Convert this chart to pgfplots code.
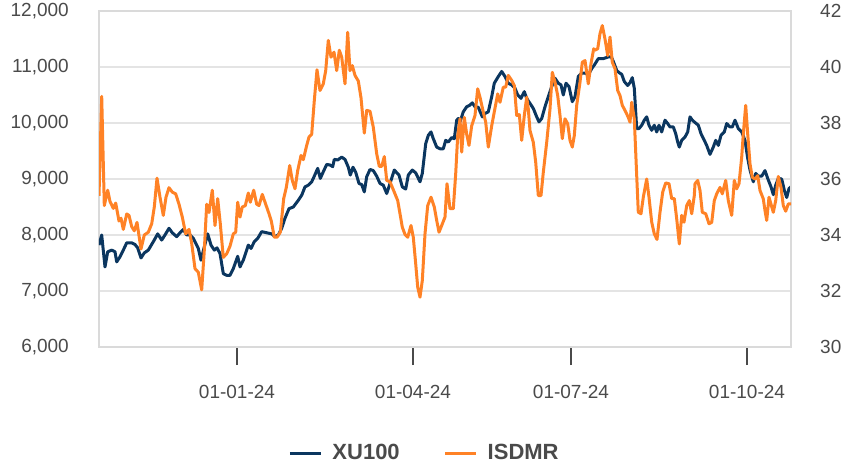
\documentclass[border=0pt]{standalone}
\usepackage{pgfplots}
\pgfplotsset{compat=1.18}
\usepackage{fontspec}
\setmainfont{Liberation Sans}
\definecolor{navy}{HTML}{0B365F}
\definecolor{orng}{HTML}{FF8226}
\definecolor{txt}{HTML}{4A4A4A}
\definecolor{grd}{HTML}{E4E4E4}
\definecolor{frm}{HTML}{DADADA}

\pgfplotstableread{
x y
0 7820
2.7 8000
6 7430
8.7 7700
12.7 7730
16 7700
17.7 7520
21 7610
24.3 7730
27.7 7860
32.7 7860
36 7830
38.7 7770
42 7590
45.3 7680
49.3 7730
54.3 7880
58.7 8020
62.7 7910
66 8000
70 8120
73.3 8040
77.7 7970
81 8040
84.3 8100
87.7 8000
91 8000
94.3 7940
96 7880
99.3 7760
102 7550
105.3 7790
108.7 8020
112 7820
115.3 7730
118 7770
121 7670
124.3 7310
127.7 7280
131 7280
134.3 7400
138.7 7620
141 7430
144.3 7550
149.3 7820
152 7760
155.3 7880
158.7 7940
162.7 8060
167.7 8040
172.7 8020
176 7970
179.3 8000
182.7 8120
186 8300
190 8470
194.3 8500
199.3 8620
202.7 8710
206 8860
209.3 8890
212.7 8950
215.3 9050
218.7 9190
221.3 9010
224.3 9130
227.7 9260
231 9250
233.7 9220
235.3 9350
238.7 9340
242.7 9390
246 9350
249.3 9210
251.3 9070
254 9210
256.7 9120
260 8920
262.7 8900
265.3 8770
267.7 9040
271 9170
274.3 9150
277.7 9050
281 8920
284.3 8890
287.7 8740
291 8920
295.3 9160
300 9070
303.3 8860
306.7 8820
309.3 9070
313.3 9160
316.7 9110
321 8950
323.3 9100
326.7 9630
329.3 9780
332 9840
334.3 9720
337.7 9570
341 9540
344.3 9540
346.7 9690
349.3 9660
352.7 9740
355.3 9720
357.7 10050
359.3 10080
361 10020
364.3 10200
367.7 10290
371 10320
373.3 10360
376 10290
379.3 10280
383.3 10110
386 10170
389.3 10200
392.7 10470
395.3 10710
399.3 10830
402.7 10920
406 10830
409.3 10710
412.7 10680
416 10620
418.7 10500
422 10440
425.3 10560
427.7 10440
431 10350
434.3 10260
437.7 10110
440 10020
442.7 10080
446 10290
449.3 10470
452.7 10650
456 10800
459.3 10710
462 10680
464.3 10500
467 10710
470 10650
473.3 10380
476 10470
479.3 10830
482.7 10890
486 10890
489.3 10860
492.7 10970
495.5 11040
499.3 11150
504.3 11150
509.3 11180
512.3 11180
514.3 11100
517.7 10940
520 10900
522.7 10870
525.3 10740
528.7 10670
531 10720
533.3 10810
535.3 10620
537.7 9900
540 9900
542.7 9960
545.3 10050
547.7 10110
550 9960
552.7 9870
555.3 9960
557.7 9840
560 9960
562.7 9840
566 10050
568.7 9990
571 9930
574.3 9930
576.7 9810
578.7 9660
580.3 9570
582.7 9690
586 9750
588.7 9840
591 10110
593.3 10050
595.3 10020
599.3 9960
602 9810
605.3 9690
607.7 9600
611 9440
614.3 9570
616.7 9690
619.3 9600
622 9780
625.3 9840
627.7 9990
631 9930
633.3 9930
636 10050
639.3 9900
642.7 9840
646 9690
648.7 9370
651 9160
654.3 8950
656.7 9100
659.3 9050
662.7 9050
666 9150
668.7 9010
672 8860
674.3 8720
676.7 8890
679.3 9010
682.7 9000
685.3 8800
687.7 8670
690 8830
692 8860
}\xu

\pgfplotstableread{
x y
0 35.4
2.7 38.95
5.3 35.05
8.7 35.6
11 35.2
14.3 34.95
16.7 35.14
20 34.5
22 34.6
24.3 34.2
27.7 34.75
30 34.7
32.7 34.3
35.3 34.15
38 34.45
42 33.5
45.3 34.0
49.3 34.1
52.7 34.4
55.3 35.0
58 36.03
61 35.35
64.3 34.7
67 35.35
70 35.69
73.3 35.53
76.7 35.47
80 35.1
83.3 34.64
86.7 34.04
90 34.2
92.7 33.7
96 32.8
99.3 32.67
102.7 32.04
105.3 33.45
107.7 35.1
110 34.8
113.3 35.6
116 34.34
118.7 35.3
121.3 34.4
124.3 33.2
127.7 33.33
131 33.6
134.3 34.04
136.7 34.1
138.7 35.17
141 34.64
143.3 35.0
146.3 35.05
149.3 35.5
151.3 35.17
154.7 35.6
157.7 35.1
160 35.05
163.3 35.45
166.7 35.1
170 34.76
172.3 34.5
175.3 33.92
178 33.92
181.3 34.1
184.7 35.3
187.3 35.7
190.7 36.48
193.3 35.95
196 35.65
198.7 36.3
202 36.84
204.3 36.69
207.7 37.2
210 37.5
212.7 37.6
215.3 38.8
218 39.9
221 39.16
224.3 39.4
226.7 39.87
229.3 40.95
232 40.35
235 40.53
237.7 39.87
240.3 40.6
242.7 40.35
246 39.4
248.7 41.24
251 39.87
253.3 40.05
256 39.7
259.3 39.5
262 38.9
265.3 37.64
267.7 38.45
271 38.42
274.3 37.85
277.7 36.9
280.3 36.45
282.7 36.45
285.3 36.8
287.7 35.95
291 35.9
295.3 35.53
298.7 35.23
301 34.76
303.3 34.28
306 34.02
308.7 33.92
312 34.34
314.3 33.92
316.7 32.97
318.7 32.14
321 31.78
323.3 32.37
326 34.04
328.7 35.05
332 35.35
335.3 35.0
337.7 34.52
340 34.1
342.7 34.34
346 34.64
348 35.83
351 34.94
354.3 34.94
356.7 36.19
358.7 37.55
361 38.15
362.7 36.96
365.3 38.2
367.7 37.6
370 37.2
372.7 37.9
376 38.27
378.7 39.22
381 38.92
384.3 38.39
386.7 38.03
389.3 37.14
392.7 37.9
395.3 38.4
398.7 39.04
401 38.74
404.3 39.28
406.7 39.28
409.3 39.7
412.7 39.52
415.3 39.34
417.7 38.27
420.3 38.3
422.7 37.38
425.3 38.27
427.7 38.92
429.3 38.5
431 37.73
434.3 37.31
436.7 36.6
439.3 35.41
442 35.41
444.3 36.24
447.7 37.31
451 38.5
453.3 39.81
456 39.46
458.7 38.98
461 38.27
463.3 37.44
466 38.15
468.7 37.97
471 37.38
473.3 37.14
475.3 37.55
477.7 38.63
481 39.46
483.3 40.17
486 40.23
489.3 39.4
492 40.12
494.7 40.65
496 40.6
498.7 40.65
501 41.19
503.3 41.48
506 41.0
508.7 40.41
511 41.07
513.3 40.17
516 39.94
518.7 39.16
521 38.98
523.3 38.63
526 38.45
529.3 38.2
531 38.03
532.7 38.74
535.3 38.15
537.7 36.12
539.3 34.81
542 34.76
544.3 35.35
547.7 36.0
550 35.35
552.7 34.46
555.3 34.04
558 33.84
561 34.81
563.7 35.53
566.7 35.86
570 35.83
572.7 35.3
575.3 35.3
577.7 34.58
580.3 33.68
582.7 34.7
585 34.46
587.7 35.05
590.3 35.23
592.7 34.76
595.3 35.41
596 35.83
598.7 35.95
601 35.59
603.3 34.81
606.7 34.76
610 34.4
612.7 34.45
615.3 35.23
617.7 35.47
621 35.7
623.3 35.47
626.7 35.95
629.3 35.23
632.7 34.7
635.3 35.95
637.7 35.65
640 35.83
642.7 36.78
644.3 37.61
646.7 38.63
648.7 37.61
651 36.54
653.3 36.06
656 36.0
658.7 36.12
661 35.59
664.3 35.29
666 34.87
667.7 34.52
670 35.35
672 35.1
674.3 34.81
676.7 35.23
679.3 36.09
682 35.7
684.3 35.05
686.7 34.85
689.3 35.11
692 35.11
}\isd

\begin{document}
\begin{tikzpicture}[x=1pt,y=1pt]
\path[use as bounding box] (0,0) rectangle (841,469);
\pgfplotsset{
  common/.style={
    at={(99pt,122pt)}, anchor=south west,
    scale only axis, width=692pt, height=336pt,
    xmin=0, xmax=692,
    tick align=outside, major tick length=18pt,
    ytick style={draw=none},
    scaled y ticks=false,
    ticklabel style={font=\fontsize{19}{22}\selectfont, text=txt},
    /pgf/number format/assume math mode=true,
  }
}
\begin{axis}[common,
  ymin=6000, ymax=12000,
  ytick={6000,7000,...,12000},
  /pgf/number format/1000 sep={,},
  yticklabel style={inner sep=0pt, anchor=east, xshift=-12pt},
  xtick={138,314,472,648},
  xticklabels={01-01-24,01-04-24,01-07-24,01-10-24},
  xtick style={draw=txt, line width=1.2pt},
  xticklabel style={inner sep=0pt, anchor=north, yshift=-20pt},
  ymajorgrids, grid style={grd, line width=2pt},
  axis line style={frm, line width=2pt},
  xtick pos=bottom,
]
\addplot[navy, line width=3pt, line join=round] table[x=x,y=y] {\xu};
\end{axis}
\begin{axis}[common,
  ymin=30, ymax=42,
  ytick={30,32,...,42},
  axis y line*=right, axis x line=none,
  axis line style={frm, line width=2pt},
  yticklabel style={inner sep=0pt, anchor=west, xshift=11pt},
  legend columns=2,
  legend style={at={(0.469,-0.3155)}, anchor=center, draw=none, fill=none,
    font=\fontsize{22}{26}\selectfont\bfseries, text=txt,
    nodes={inner sep=0pt},
    /tikz/every odd column/.append style={column sep=10pt},
    /tikz/every even column/.append style={column sep=44pt}},
  legend image code/.code={\draw[#1] (0pt,0pt) -- (31pt,0pt);},
]
\addlegendimage{navy, line width=3pt}
\addlegendentry{XU100}
\addplot[orng, line width=3pt, line join=round] table[x=x,y=y] {\isd};
\addlegendentry{ISDMR}
\end{axis}
\end{tikzpicture}
\end{document}
